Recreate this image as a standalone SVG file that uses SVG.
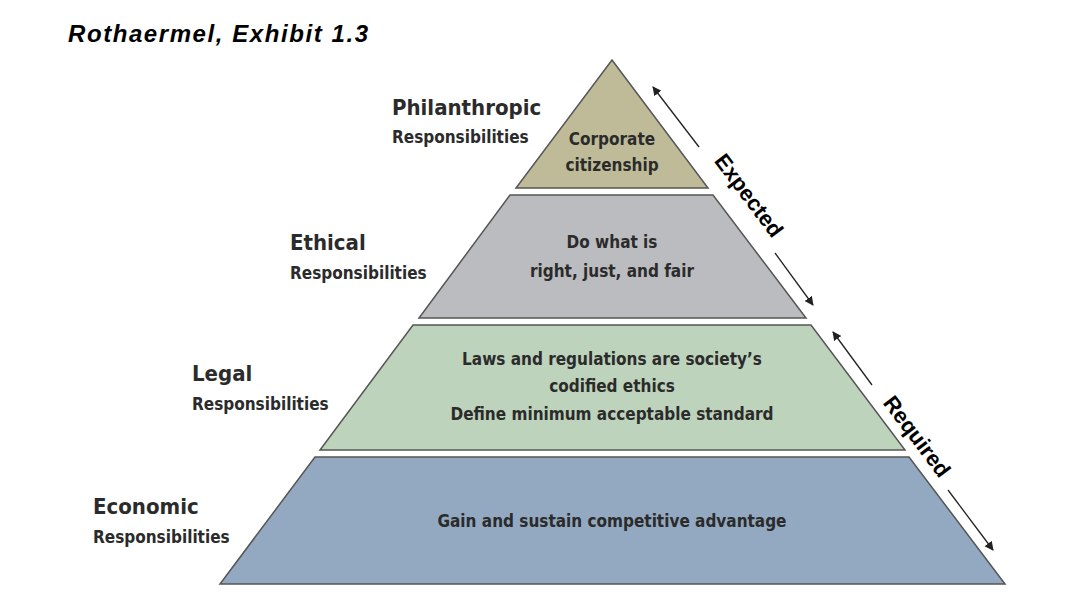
<svg xmlns="http://www.w3.org/2000/svg" width="1078" height="612" viewBox="0 0 1078 612">
<style>
.t{font-family:"DejaVu Sans Condensed","DejaVu Sans",sans-serif;font-weight:bold;fill:#2b2b2b}
.big{font-size:22px}.sm{font-size:17px}.c{font-size:17px;text-anchor:middle}
.tier{stroke:#555;stroke-width:1.5}
.ar{stroke:#222;stroke-width:1.3;fill:none;marker-end:url(#h)}
.lab{font-family:"Liberation Sans",Arial,sans-serif;font-weight:bold;font-size:22px;fill:#000;text-anchor:middle}
</style>
<defs><marker id="h" viewBox="0 0 10 10" refX="9" refY="5" markerWidth="9" markerHeight="9" markerUnits="userSpaceOnUse" orient="auto"><path d="M0,0L10,5L0,10z" fill="#222"/></marker></defs>
<rect width="1078" height="612" fill="#fff"/>
<text x="68" y="42" textLength="300" style="font-family:'Liberation Sans',Arial,sans-serif;font-style:italic;font-weight:bold;font-size:24px">Rothaermel, Exhibit 1.3</text>
<g id="philanthropic">
<polygon class="tier" points="612,60 708,188 516,188" fill="#bfbb98"/>
<text class="t c" x="612" y="145">Corporate</text><text class="t c" x="612" y="171">citizenship</text>
<text class="t big" x="392" y="115">Philanthropic</text><text class="t sm" x="392" y="143">Responsibilities</text>
</g>
<g id="ethical">
<polygon class="tier" points="510,195 713,195 806,318 419,318" fill="#bbbcbf"/>
<text class="t c" x="612" y="248">Do what is</text><text class="t c" x="612" y="277">right, just, and fair</text>
<text class="t big" x="290" y="250">Ethical</text><text class="t sm" x="290" y="279">Responsibilities</text>
</g>
<g id="legal">
<polygon class="tier" points="413,325 811,325 905,450 320,450" fill="#bed3bb"/>
<text class="t c" x="612" y="365">Laws and regulations are society’s</text><text class="t c" x="612" y="392">codified ethics</text><text class="t c" x="612" y="420">Define minimum acceptable standard</text>
<text class="t big" x="192" y="381">Legal</text><text class="t sm" x="192" y="410">Responsibilities</text>
</g>
<g id="economic">
<polygon class="tier" points="315,457 909,457 1005,584 220,584" fill="#93a9c1"/>
<text class="t c" x="612" y="527">Gain and sustain competitive advantage</text>
<text class="t big" x="93" y="514">Economic</text><text class="t sm" x="93" y="543">Responsibilities</text>
</g>
<g id="connectors">
<line class="ar" x1="699" y1="147" x2="653" y2="87"/>
<line class="ar" x1="775" y1="253" x2="813" y2="305"/>
<line class="ar" x1="872" y1="385" x2="833" y2="332"/>
<line class="ar" x1="948" y1="490" x2="993" y2="550"/>
</g>
<text class="lab" transform="translate(743,200) rotate(53)">Expected</text>
<text class="lab" transform="translate(911,441) rotate(53)">Required</text>
</svg>
